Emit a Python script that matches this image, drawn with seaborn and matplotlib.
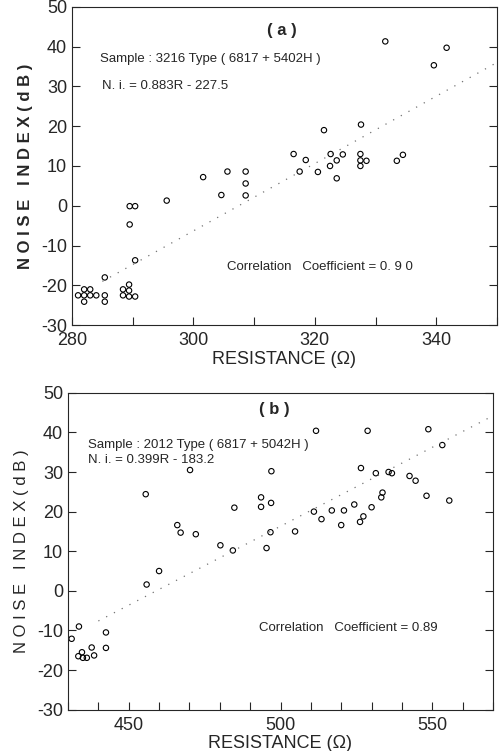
import numpy as np
import pandas as pd
import matplotlib
matplotlib.use("Agg")
import matplotlib.pyplot as plt
import seaborn as sns
from matplotlib.ticker import MultipleLocator

# Panel (a) data : 3216 type
res_a = [331.6, 341.7, 339.6, 327.6, 321.5, 316.5, 318.5, 317.5, 320.5, 322.6,
         324.6, 323.6, 322.5, 323.6, 327.5, 327.5, 327.5, 328.5, 333.5, 334.5,
         301.6, 305.6, 304.6, 308.6, 308.6, 308.6, 295.6, 289.5, 290.4, 289.5,
         290.4, 285.4,
         281.0, 282.0, 282.0, 282.0, 283.0, 283.0, 284.0, 285.4, 285.4,
         288.4, 288.4, 289.4, 289.4, 289.4, 290.4]
noise_a = [41.3, 39.7, 35.3, 20.4, 19.0, 13.0, 11.5, 8.6, 8.5, 13.0,
           12.9, 11.4, 10.0, 6.9, 13.0, 11.4, 10.0, 11.3, 11.3, 12.8,
           7.2, 8.6, 2.7, 8.6, 5.6, 2.6, 1.3, -0.1, -0.1, -4.7,
           -13.7, -18.0,
           -22.5, -21.0, -22.5, -24.1, -21.0, -22.5, -22.5, -22.5, -24.1,
           -21.0, -22.5, -19.8, -21.3, -22.8, -22.8]
fit_a_x = [285, 350]
fit_a_y = [-19.0, 36.0]

# Panel (b) data : 2012 type
res_b = [511.7, 528.7, 548.7, 553.3, 470.2, 497.0, 526.5, 531.4, 535.6, 536.7,
         542.5, 544.5, 455.6, 493.6, 493.6, 496.9, 484.8, 533.6, 533.2, 548.1,
         555.6, 524.3, 511.0, 516.9, 520.9, 530.0, 513.5, 527.3, 526.2, 520.0,
         466.0, 467.1, 472.1, 496.7, 504.8, 480.2, 484.3, 495.4, 460.0, 455.9,
         433.6, 431.2, 442.5, 442.5, 437.8, 438.6, 434.6, 433.4, 434.9, 436.2]
noise_b = [40.4, 40.4, 40.8, 36.8, 30.5, 30.2, 31.0, 29.7, 30.0, 29.7,
           29.0, 27.8, 24.4, 23.6, 21.2, 22.2, 21.0, 24.8, 23.6, 24.0,
           22.8, 21.8, 20.0, 20.3, 20.3, 21.1, 18.1, 18.8, 17.4, 16.6,
           16.6, 14.7, 14.3, 14.8, 15.0, 11.5, 10.2, 10.8, 5.0, 1.6,
           -9.0, -12.1, -10.5, -14.4, -14.3, -16.3, -15.5, -16.5, -16.9, -16.9]
fit_b_x = [440, 570]
fit_b_y = [-7.6, 44.2]

sns.set_style("ticks")
plt.rcParams['font.family'] = ['Liberation Sans', 'DejaVu Sans']
plt.rcParams['axes.unicode_minus'] = False

fig = plt.figure(figsize=(5, 7.51), dpi=100)
ax1 = fig.add_axes([0.144, 0.567, 0.850, 0.424])
ax2 = fig.add_axes([0.136, 0.055, 0.850, 0.422])

df_a = pd.DataFrame({"R": res_a, "N": noise_a})
df_b = pd.DataFrame({"R": res_b, "N": noise_b})


def draw(ax, df, fx, fy, xlim, xmajor, bold):
    sns.lineplot(x=fx, y=fy, ax=ax, color="0.45", linewidth=0.9,
                 linestyle=(0, (1, 6)))
    sns.scatterplot(data=df, x="R", y="N", ax=ax, s=15, marker="o",
                    facecolor="none", edgecolor="black", linewidth=0.8)
    ax.set_xlim(*xlim)
    ax.set_ylim(-30, 50)
    ax.xaxis.set_major_locator(MultipleLocator(xmajor))
    ax.xaxis.set_minor_locator(MultipleLocator(10))
    ax.yaxis.set_major_locator(MultipleLocator(10))
    ax.tick_params(axis="both", which="both", direction="in", labelsize=13,
                   right=True, top=False)
    ax.tick_params(axis="x", which="major", pad=5)
    ax.tick_params(which="major", length=6, width=0.8)
    ax.tick_params(which="minor", length=6, width=0.8)
    for s in ax.spines.values():
        s.set_linewidth(0.8)
    ax.set_xlabel("RESISTANCE (\u03a9)", fontsize=13, labelpad=1)
    ax.set_ylabel("N O I S E   I N D E X ( d B )", fontsize=12,
                  fontweight="bold" if bold else "normal", labelpad=6)


draw(ax1, df_a, fit_a_x, fit_a_y, (280, 350), 20, True)
draw(ax2, df_b, fit_b_x, fit_b_y, (430, 570), 50, False)

ax1.text(314.5, 44.1, "( a )", fontsize=12, fontweight="bold", ha="center", va="center")
ax1.text(284.6, 36.8, "Sample : 3216 Type ( 6817 + 5402H )", fontsize=9.5, va="center")
ax1.text(284.9, 30.0, "N. i. = 0.883R - 227.5", fontsize=9.5, va="center")
ax1.text(305.6, -15.4, "Correlation   Coefficient = 0. 9 0", fontsize=9.5, va="center")

ax2.text(498.1, 45.8, "( b )", fontsize=12, fontweight="bold", ha="center", va="center")
ax2.text(436.7, 36.7, "Sample : 2012 Type ( 6817 + 5042H )", fontsize=9.5, va="center")
ax2.text(436.7, 33.0, "N. i. = 0.399R - 183.2", fontsize=9.5, va="center")
ax2.text(492.9, -9.3, "Correlation   Coefficient = 0.89", fontsize=9.5, va="center")

fig.savefig("out.png", dpi=100)
